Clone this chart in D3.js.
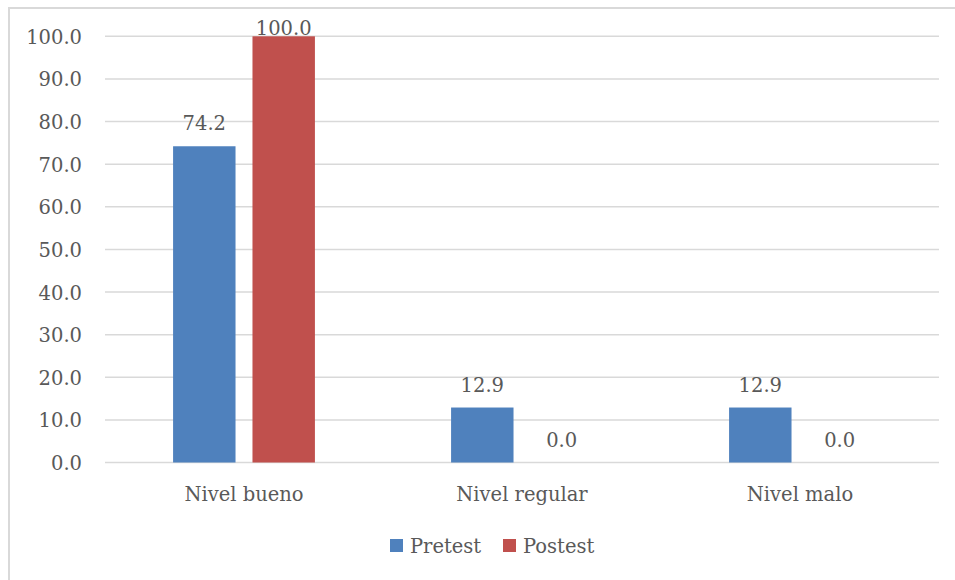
<!DOCTYPE html>
<html>
<head>
<meta charset="utf-8">
<script src="https://cdn.jsdelivr.net/npm/d3@7"></script>
<style>
  html, body { margin: 0; padding: 0; background: #fff; }
  svg { display: block; }
  svg text { font-family: "DejaVu Serif", serif; fill: #595959; }
</style>
</head>
<body>
<svg id="chart" width="955" height="580"></svg>
<script>
// Percentages per level, before and after
const categories = ["Nivel bueno", "Nivel regular", "Nivel malo"];
const seriesNames = ["Pretest", "Postest"];
const pretest = [74.2, 12.9, 12.9];
const postest = [100.0, 0.0, 0.0];
const yTicks = [0, 10, 20, 30, 40, 50, 60, 70, 80, 90, 100];
const colors = ["#4F81BD", "#C0504D"];

const FONT = "DejaVu Serif";
const FS = "19.5px";

const svg = d3.select("#chart");
const W = 955, H = 580;
const plot = { left: 105, right: 939, top: 36.3, bottom: 462.5 };

// outer frame (left and top edges visible)
svg.append("path")
  .attr("d", `M9,${H} V8 H${W}`)
  .attr("fill", "none")
  .attr("stroke", "#D9D9D9")
  .attr("stroke-width", 2);

const x0 = d3.scaleBand().domain(categories).range([plot.left, plot.right]).paddingInner(0).paddingOuter(0);
const bandW = x0.bandwidth();
const barW = bandW * 0.2246;
const gap = bandW * 0.061;
const x1 = d3.scaleOrdinal().domain(seriesNames).range([-(gap / 2 + barW), gap / 2]);
const y = d3.scaleLinear().domain([0, 100]).range([plot.bottom, plot.top]);

// gridlines
svg.append("g").selectAll("line").data(yTicks).join("line")
  .attr("x1", plot.left).attr("x2", plot.right)
  .attr("y1", d => y(d)).attr("y2", d => y(d))
  .attr("stroke", "#D9D9D9").attr("stroke-width", 1.5);

// y-axis labels
const yAxis = d3.axisLeft(y).tickValues(yTicks).tickFormat(d3.format(".1f")).tickSize(0).tickPadding(0);
const gy = svg.append("g").attr("transform", "translate(82,0)").call(yAxis);
gy.attr("font-family", FONT).attr("font-size", null);
gy.select(".domain").remove();
gy.selectAll("text")
  .style("font-family", FONT)
  .style("font-size", FS)
  .attr("dy", "0.36em")
  .attr("fill", "#595959");

const rows = categories.map((c, i) => ({ cat: c, values: [pretest[i], postest[i]] }));

const groups = svg.append("g").selectAll("g").data(rows).join("g")
  .attr("transform", d => `translate(${x0(d.cat) + bandW / 2},0)`);

groups.selectAll("rect").data(d => d.values.map((v, j) => ({ v, s: seriesNames[j], j }))).join("rect")
  .attr("x", d => x1(d.s))
  .attr("width", barW)
  .attr("y", d => y(d.v))
  .attr("height", d => y(0) - y(d.v))
  .attr("fill", d => colors[d.j]);

// value labels, kept inside the top of the plot area
groups.selectAll("text.val").data(d => d.values.map((v, j) => ({ v, s: seriesNames[j], j }))).join("text")
  .attr("class", "val")
  .attr("x", d => x1(d.s) + barW / 2)
  .attr("y", d => Math.max(y(d.v) - 16, 35))
  .attr("text-anchor", "middle")
  .style("font-family", FONT)
  .style("font-size", FS)
  .text(d => d3.format(".1f")(d.v));

// category labels
svg.append("g").selectAll("text").data(categories).join("text")
  .attr("x", d => x0(d) + bandW / 2)
  .attr("y", 501)
  .attr("text-anchor", "middle")
  .style("font-family", FONT)
  .style("font-size", FS)
  .text(d => d);

// legend
const legendX = [390, 503];
const lg = svg.append("g").selectAll("g").data(seriesNames).join("g")
  .attr("transform", (d, i) => `translate(${legendX[i]},539)`);
lg.append("rect").attr("width", 13).attr("height", 13).attr("fill", (d, i) => colors[i]);
lg.append("text").attr("x", 20).attr("y", 14)
  .style("font-family", FONT)
  .style("font-size", FS)
  .text(d => d);
</script>
</body>
</html>
